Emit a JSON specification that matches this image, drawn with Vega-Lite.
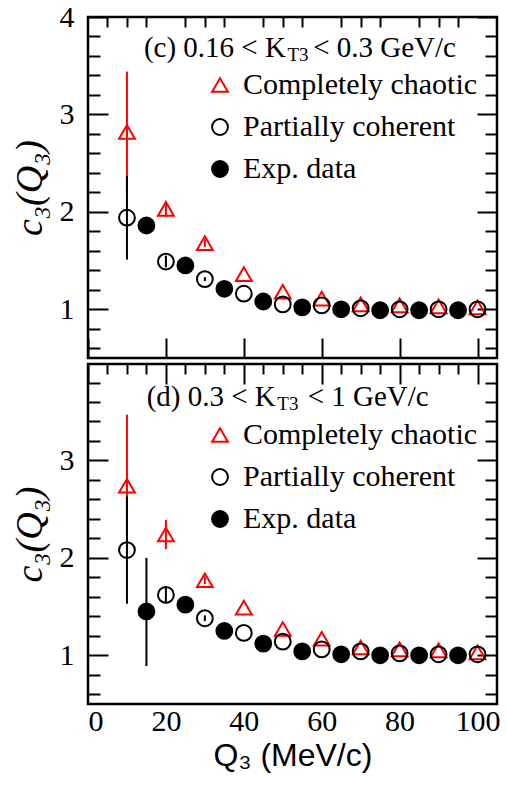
{
  "$schema": "https://vega.github.io/schema/vega-lite/v6.json",
  "padding": {"left": 9, "top": 0, "right": 7, "bottom": 5},
  "background": "white",
  "spacing": 0,
  "datasets": {
    "panelC": [
      {"series": "Completely chaotic", "q": 10, "c3": 2.82, "lo": 2.20, "hi": 3.44},
      {"series": "Completely chaotic", "q": 20, "c3": 2.03, "lo": 1.95, "hi": 2.11},
      {"series": "Completely chaotic", "q": 30, "c3": 1.68, "lo": 1.64, "hi": 1.72},
      {"series": "Completely chaotic", "q": 40, "c3": 1.36},
      {"series": "Completely chaotic", "q": 50, "c3": 1.18},
      {"series": "Completely chaotic", "q": 60, "c3": 1.11},
      {"series": "Completely chaotic", "q": 70, "c3": 1.05},
      {"series": "Completely chaotic", "q": 80, "c3": 1.04},
      {"series": "Completely chaotic", "q": 90, "c3": 1.03},
      {"series": "Completely chaotic", "q": 100, "c3": 1.02},
      {"series": "Partially coherent", "q": 10, "c3": 1.94, "lo": 1.51, "hi": 2.37},
      {"series": "Partially coherent", "q": 20, "c3": 1.49, "lo": 1.43, "hi": 1.55},
      {"series": "Partially coherent", "q": 30, "c3": 1.31, "lo": 1.29, "hi": 1.33},
      {"series": "Partially coherent", "q": 40, "c3": 1.16},
      {"series": "Partially coherent", "q": 50, "c3": 1.05},
      {"series": "Partially coherent", "q": 60, "c3": 1.04},
      {"series": "Partially coherent", "q": 70, "c3": 1.01},
      {"series": "Partially coherent", "q": 80, "c3": 1.0},
      {"series": "Partially coherent", "q": 90, "c3": 1.0},
      {"series": "Partially coherent", "q": 100, "c3": 1.0},
      {"series": "Exp. data", "q": 15, "c3": 1.86},
      {"series": "Exp. data", "q": 25, "c3": 1.45},
      {"series": "Exp. data", "q": 35, "c3": 1.21},
      {"series": "Exp. data", "q": 45, "c3": 1.08},
      {"series": "Exp. data", "q": 55, "c3": 1.02},
      {"series": "Exp. data", "q": 65, "c3": 1.0},
      {"series": "Exp. data", "q": 75, "c3": 0.99},
      {"series": "Exp. data", "q": 85, "c3": 0.99},
      {"series": "Exp. data", "q": 95, "c3": 0.99}
    ],
    "panelD": [
      {"series": "Completely chaotic", "q": 10, "c3": 2.74, "lo": 2.01, "hi": 3.47},
      {"series": "Completely chaotic", "q": 20, "c3": 2.24, "lo": 2.09, "hi": 2.39},
      {"series": "Completely chaotic", "q": 30, "c3": 1.77, "lo": 1.73, "hi": 1.81},
      {"series": "Completely chaotic", "q": 40, "c3": 1.49},
      {"series": "Completely chaotic", "q": 50, "c3": 1.27},
      {"series": "Completely chaotic", "q": 60, "c3": 1.17},
      {"series": "Completely chaotic", "q": 70, "c3": 1.08},
      {"series": "Completely chaotic", "q": 80, "c3": 1.06},
      {"series": "Completely chaotic", "q": 90, "c3": 1.05},
      {"series": "Completely chaotic", "q": 100, "c3": 1.03},
      {"series": "Partially coherent", "q": 10, "c3": 2.08, "lo": 1.53, "hi": 2.63},
      {"series": "Partially coherent", "q": 20, "c3": 1.62, "lo": 1.53, "hi": 1.71},
      {"series": "Partially coherent", "q": 30, "c3": 1.38, "lo": 1.35, "hi": 1.41},
      {"series": "Partially coherent", "q": 40, "c3": 1.23},
      {"series": "Partially coherent", "q": 50, "c3": 1.14},
      {"series": "Partially coherent", "q": 60, "c3": 1.06},
      {"series": "Partially coherent", "q": 70, "c3": 1.04},
      {"series": "Partially coherent", "q": 80, "c3": 1.02},
      {"series": "Partially coherent", "q": 90, "c3": 1.01},
      {"series": "Partially coherent", "q": 100, "c3": 1.01},
      {"series": "Exp. data", "q": 15, "c3": 1.45, "lo": 0.89, "hi": 2.0},
      {"series": "Exp. data", "q": 25, "c3": 1.52},
      {"series": "Exp. data", "q": 35, "c3": 1.25},
      {"series": "Exp. data", "q": 45, "c3": 1.12},
      {"series": "Exp. data", "q": 55, "c3": 1.04},
      {"series": "Exp. data", "q": 65, "c3": 1.01},
      {"series": "Exp. data", "q": 75, "c3": 1.0},
      {"series": "Exp. data", "q": 85, "c3": 1.0},
      {"series": "Exp. data", "q": 95, "c3": 1.0}
    ]
  },
  "config": {
    "view": {"stroke": "black", "strokeWidth": 2.5},
    "font": "Liberation Serif",
    "axis": {
      "grid": false,
      "domain": false,
      "labelFont": "Liberation Serif",
      "labelFontSize": 30,
      "labelColor": "black",
      "tickColor": "black",
      "tickWidth": 2,
      "titleColor": "black",
      "titleFontWeight": "normal"
    },
    "legend": {
      "padding": 0,
      "labelFont": "Liberation Serif",
      "labelFontSize": 30,
      "labelColor": "black",
      "labelLimit": 400,
      "symbolSize": 250,
      "symbolStrokeWidth": 2,
      "rowPadding": 12,
      "labelOffset": 8
    }
  },
  "resolve": {
    "scale": {"y": "independent", "stroke": "independent", "fill": "independent", "shape": "independent"},
    "legend": {"stroke": "independent", "fill": "independent", "shape": "independent"}
  },
  "vconcat": [
    {
      "width": 409,
      "height": 341,
      "data": {"name": "panelC"},
      "resolve": {"axis": {"x": "independent", "y": "independent"}},
      "layer": [
        {
          "mark": {"type": "rule", "strokeWidth": 2},
          "encoding": {
            "x": {"field": "q", "type": "quantitative", "scale": {"domain": [0, 105], "nice": false, "zero": false},
                  "axis": {"values": [0, 20, 40, 60, 80, 100], "labels": false, "tickSize": -20, "title": null}},
            "y": {"field": "lo", "type": "quantitative", "scale": {"domain": [0.5, 4], "nice": false, "zero": false},
                  "axis": {"orient": "left", "values": [1, 2, 3, 4], "ticks": false, "tickSize": 0, "labelPadding": 14,
                           "title": "c₃(Q₃)", "titleFont": "Liberation Serif", "titleFontStyle": "italic", "titleFontSize": 38, "titlePadding": 10}},
            "y2": {"field": "hi"},
            "stroke": {"condition": {"test": "datum.series === 'Completely chaotic'", "value": "#ff0000"}, "value": "#000000"}
          }
        },
        {
          "mark": {"type": "point", "size": 250, "strokeWidth": 2, "opacity": 1},
          "encoding": {
            "x": {"field": "q", "type": "quantitative",
                  "axis": {"values": [5, 10, 15, 25, 30, 35, 45, 50, 55, 65, 70, 75, 85, 90, 95], "labels": false, "tickSize": -10, "title": null}},
            "y": {"field": "c3", "type": "quantitative",
                  "axis": {"orient": "left", "values": [1, 2, 3, 4], "labels": false, "tickSize": -20, "title": null}},
            "stroke": {"field": "series", "type": "nominal",
                       "scale": {"domain": ["Completely chaotic", "Partially coherent", "Exp. data"], "range": ["#ff0000", "#000000", "#000000"]},
                       "legend": {"title": null, "orient": "none", "legendX": 117, "legendY": 53}},
            "fill": {"field": "series", "type": "nominal",
                     "scale": {"domain": ["Completely chaotic", "Partially coherent", "Exp. data"], "range": ["transparent", "transparent", "#000000"]},
                     "legend": {"title": null, "orient": "none", "legendX": 117, "legendY": 53}},
            "shape": {"field": "series", "type": "nominal",
                      "scale": {"domain": ["Completely chaotic", "Partially coherent", "Exp. data"], "range": ["triangle-up", "circle", "circle"]},
                      "legend": {"title": null, "orient": "none", "legendX": 117, "legendY": 53}}
          }
        },
        {
          "data": {"values": [{}]},
          "mark": {"type": "text", "align": "right", "baseline": "middle", "font": "Liberation Serif", "fontSize": 29, "color": "black"},
          "encoding": {
            "x": {"datum": 50.8, "type": "quantitative", "axis": null},
            "y": {"datum": 3.68, "type": "quantitative",
                  "axis": {"orient": "left", "values": [0.6, 0.8, 1.2, 1.4, 1.6, 1.8, 2.2, 2.4, 2.6, 2.8, 3.2, 3.4, 3.6, 3.8], "labels": false, "tickSize": -12, "title": null}},
            "text": {"value": "(c) 0.16 < K"}
          }
        },
        {
          "data": {"values": [{}]},
          "mark": {"type": "text", "align": "left", "baseline": "middle", "font": "Liberation Serif", "fontSize": 19, "dy": 7, "color": "black"},
          "encoding": {
            "x": {"datum": 51.2, "type": "quantitative", "axis": null},
            "y": {"datum": 3.68, "type": "quantitative",
                  "axis": {"orient": "right", "values": [1, 2, 3, 4], "labels": false, "tickSize": -20, "title": null}},
            "text": {"value": "T3"}
          }
        },
        {
          "data": {"values": [{}]},
          "mark": {"type": "text", "align": "left", "baseline": "middle", "font": "Liberation Serif", "fontSize": 29, "color": "black"},
          "encoding": {
            "x": {"datum": 57.8, "type": "quantitative", "axis": null},
            "y": {"datum": 3.68, "type": "quantitative",
                  "axis": {"orient": "right", "values": [0.6, 0.8, 1.2, 1.4, 1.6, 1.8, 2.2, 2.4, 2.6, 2.8, 3.2, 3.4, 3.6, 3.8], "labels": false, "tickSize": -12, "title": null}},
            "text": {"value": "< 0.3 GeV/c"}
          }
        }
      ]
    },
    {
      "width": 409,
      "height": 340,
      "data": {"name": "panelD"},
      "resolve": {"axis": {"x": "independent", "y": "independent"}},
      "layer": [
        {
          "mark": {"type": "rule", "strokeWidth": 2},
          "encoding": {
            "x": {"field": "q", "type": "quantitative", "scale": {"domain": [0, 105], "nice": false, "zero": false},
                  "axis": {"values": [0, 20, 40, 60, 80, 100], "ticks": false, "tickSize": 0, "labelPadding": 2,
                           "title": "Q₃ (MeV/c)", "titleFont": "Liberation Sans", "titleFontSize": 32, "titlePadding": 4}},
            "y": {"field": "lo", "type": "quantitative", "scale": {"domain": [0.5, 3.99], "nice": false, "zero": false},
                  "axis": {"orient": "left", "values": [1, 2, 3], "ticks": false, "tickSize": 0, "labelPadding": 14,
                           "title": "c₃(Q₃)", "titleFont": "Liberation Serif", "titleFontStyle": "italic", "titleFontSize": 38, "titlePadding": 10}},
            "y2": {"field": "hi"},
            "stroke": {"condition": {"test": "datum.series === 'Completely chaotic'", "value": "#ff0000"}, "value": "#000000"}
          }
        },
        {
          "mark": {"type": "point", "size": 250, "strokeWidth": 2, "opacity": 1},
          "encoding": {
            "x": {"field": "q", "type": "quantitative",
                  "axis": {"values": [0, 20, 40, 60, 80, 100], "labels": false, "tickSize": -20, "title": null}},
            "y": {"field": "c3", "type": "quantitative",
                  "axis": {"orient": "left", "values": [1, 2, 3], "labels": false, "tickSize": -20, "title": null}},
            "stroke": {"field": "series", "type": "nominal",
                       "scale": {"domain": ["Completely chaotic", "Partially coherent", "Exp. data"], "range": ["#ff0000", "#000000", "#000000"]},
                       "legend": {"title": null, "orient": "none", "legendX": 117, "legendY": 56}},
            "fill": {"field": "series", "type": "nominal",
                     "scale": {"domain": ["Completely chaotic", "Partially coherent", "Exp. data"], "range": ["transparent", "transparent", "#000000"]},
                     "legend": {"title": null, "orient": "none", "legendX": 117, "legendY": 56}},
            "shape": {"field": "series", "type": "nominal",
                      "scale": {"domain": ["Completely chaotic", "Partially coherent", "Exp. data"], "range": ["triangle-up", "circle", "circle"]},
                      "legend": {"title": null, "orient": "none", "legendX": 117, "legendY": 56}}
          }
        },
        {
          "data": {"values": [{}]},
          "mark": {"type": "text", "align": "right", "baseline": "middle", "font": "Liberation Serif", "fontSize": 29, "color": "black"},
          "encoding": {
            "x": {"datum": 48.2, "type": "quantitative",
                  "axis": {"values": [5, 10, 15, 25, 30, 35, 45, 50, 55, 65, 70, 75, 85, 90, 95], "labels": false, "tickSize": -10, "title": null}},
            "y": {"datum": 3.65, "type": "quantitative",
                  "axis": {"orient": "left", "values": [0.6, 0.8, 1.2, 1.4, 1.6, 1.8, 2.2, 2.4, 2.6, 2.8, 3.2, 3.4, 3.6, 3.8], "labels": false, "tickSize": -12, "title": null}},
            "text": {"value": "(d) 0.3 < K"}
          }
        },
        {
          "data": {"values": [{}]},
          "mark": {"type": "text", "align": "left", "baseline": "middle", "font": "Liberation Serif", "fontSize": 19, "dy": 7, "color": "black"},
          "encoding": {
            "x": {"datum": 48.6, "type": "quantitative", "axis": null},
            "y": {"datum": 3.65, "type": "quantitative",
                  "axis": {"orient": "right", "values": [1, 2, 3], "labels": false, "tickSize": -20, "title": null}},
            "text": {"value": "T3"}
          }
        },
        {
          "data": {"values": [{}]},
          "mark": {"type": "text", "align": "left", "baseline": "middle", "font": "Liberation Serif", "fontSize": 29, "color": "black"},
          "encoding": {
            "x": {"datum": 56.4, "type": "quantitative", "axis": null},
            "y": {"datum": 3.65, "type": "quantitative",
                  "axis": {"orient": "right", "values": [0.6, 0.8, 1.2, 1.4, 1.6, 1.8, 2.2, 2.4, 2.6, 2.8, 3.2, 3.4, 3.6, 3.8], "labels": false, "tickSize": -12, "title": null}},
            "text": {"value": "< 1 GeV/c"}
          }
        }
      ]
    }
  ]
}
